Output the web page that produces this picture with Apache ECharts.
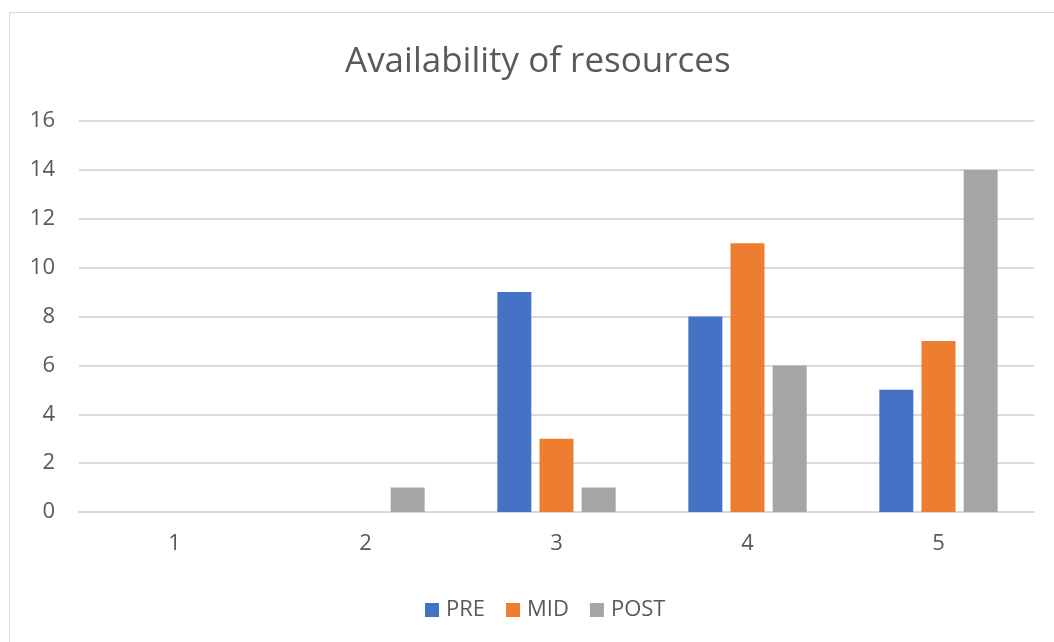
<!DOCTYPE html>
<html>
<head>
<meta charset="utf-8">
<script src="https://cdn.jsdelivr.net/npm/echarts@6/dist/echarts.min.js"></script>
<style>
  html, body { margin: 0; padding: 0; background: #fff; }
  #frame {
    position: absolute; left: 9px; top: 12px; width: 1200px; height: 800px;
    border: 1px solid #d9d9d9; box-sizing: border-box;
  }
  #chart { position: absolute; left: 0; top: 0; width: 1054px; height: 642px; }
</style>
</head>
<body>
<div id="frame"></div>
<div id="chart"></div>
<script>
// categories on x axis
const categories = ['1', '2', '3', '4', '5'];
// series values
const preValues = [0, 0, 9, 8, 5];
const midValues = [0, 0, 3, 11, 7];
const postValues = [0, 1, 1, 6, 14];

const textColor = '#595959';
const fontFamily = '"Open Sans", sans-serif';

const chart = echarts.init(document.getElementById('chart'));

function bar(name, data, color) {
  return {
    name: name,
    type: 'bar',
    data: data,
    barWidth: 34,
    barGap: '24%',
    itemStyle: { color: color },
    emphasis: { disabled: true }
  };
}

chart.setOption({
  animation: false,
  textStyle: { fontFamily: fontFamily },
  title: {
    text: 'Availability of resources',
    left: 340,
    top: 40,
    textStyle: { color: textColor, fontSize: 35, fontWeight: 'normal', fontFamily: fontFamily }
  },
  legend: {
    top: 594,
    left: 420,
    itemWidth: 14,
    itemHeight: 14,
    itemGap: 21,
    icon: 'rect',
    textStyle: { color: textColor, fontSize: 22, fontFamily: fontFamily, padding: [0, 0, 0, 2] },
    data: ['PRE', 'MID', 'POST']
  },
  grid: { left: 79, right: 20, top: 121, bottom: 130, containLabel: false },
  xAxis: {
    type: 'category',
    data: categories,
    axisLine: { lineStyle: { color: '#d9d9d9', width: 2 } },
    axisTick: { show: false },
    axisLabel: { color: textColor, fontSize: 22, margin: 21, fontFamily: fontFamily }
  },
  yAxis: {
    type: 'value',
    min: 0,
    max: 16,
    interval: 2,
    axisLine: { show: false },
    axisTick: { show: false },
    splitLine: { lineStyle: { color: '#d9d9d9', width: 2 } },
    axisLabel: { color: textColor, fontSize: 22, margin: 24, fontFamily: fontFamily }
  },
  series: [
    bar('PRE', preValues, '#4472c4'),
    bar('MID', midValues, '#ed7d31'),
    bar('POST', postValues, '#a5a5a5')
  ]
});
</script>
</body>
</html>
